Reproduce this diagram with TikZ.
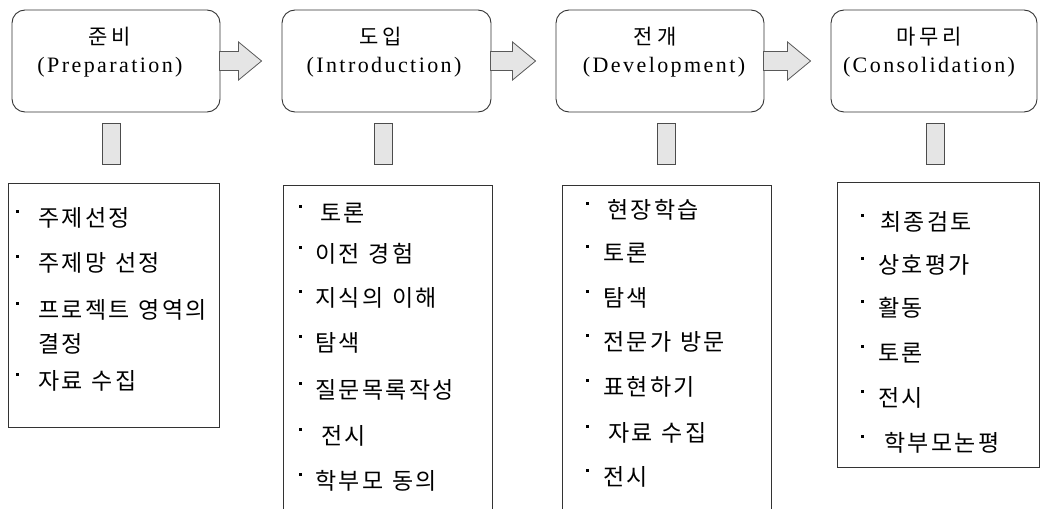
\documentclass[tikz,border=0pt]{standalone}
\usepackage{fontspec}
\usetikzlibrary{calc}
\newfontfamily\krfont{Noto Sans CJK KR}
\newfontfamily\enfont[LetterSpace=11]{Liberation Serif}
% extra spacing between Hangul syllables
\newdimen\hgap \hgap=1.5pt
\newcommand\sethgap[1]{\global\hgap=#1\relax}
\XeTeXinterchartokenstate=1
\newXeTeXintercharclass\hangulclass
\count255="AC00
\loop
  \XeTeXcharclass\count255=\hangulclass
  \ifnum\count255<"D7A3 \advance\count255 by 1
\repeat
\XeTeXinterchartoks\hangulclass\hangulclass={\kern\hgap}
\newcommand\headfont{\krfont\fontsize{21}{24}\selectfont\sethgap{4pt}}
\newcommand\itemfont{\krfont\fontsize{23}{27}\selectfont\sethgap{2.3pt}\spaceskip=9pt\relax}
\tikzset{
  stage/.style={draw=black!80, line width=0.9pt, rounded corners=13pt, inner sep=0pt},
  listbox/.style={draw=black!80, line width=0.9pt, inner sep=0pt},
  stub/.style={draw=black!70, fill=black!10, line width=0.8pt, inner sep=0pt, minimum width=18pt, minimum height=41pt},
  barrow/.style={draw=black!65, fill=black!10, line width=0.8pt, line join=miter},
  krhead/.style={font=\headfont, inner sep=0pt},
  enhead/.style={font=\enfont\fontsize{22}{25}\selectfont, inner sep=0pt},
  item/.style={font=\itemfont, inner sep=0pt, anchor=west},
  dot/.style={fill=black}
}
\newcommand\blockarrow[2]{%
  \draw[barrow] ($(#1.east)+(-1,-9.5)$) -- ($(#2.west)+(-43,-9.5)$) -- ($(#2.west)+(-43,-19)$)
    -- ($(#2.west)+(-20,0)$) -- ($(#2.west)+(-43,19)$) -- ($(#2.west)+(-43,9.5)$)
    -- ($(#1.east)+(-1,9.5)$) -- cycle;}
\newcommand\bitem[5]{% name, bullet x, text x, y, text
  \node[item] (#1) at (#3,#4) {#5};
  \fill[dot] (#2-1.5,#4-8) rectangle ++(3,3);}
\begin{document}
\begin{tikzpicture}[x=1pt,y=-1pt]
\useasboundingbox (0,0) rectangle (1040,508);

% stage boxes
\node[stage, minimum width=208pt, minimum height=102pt] (b1) at (116,61) {};
\node[stage, minimum width=209pt, minimum height=102pt] (b2) at (386.5,61) {};
\node[stage, minimum width=208pt, minimum height=102pt] (b3) at (660,61) {};
\node[stage, minimum width=206pt, minimum height=102pt] (b4) at (934,61) {};

\node[krhead] (h1k) at (110,37) {준비};
\node[enhead] (h1e) at (110,67) {(Preparation)};
\node[krhead] (h2k) at (381,37) {도입};
\node[enhead] (h2e) at (384,67) {(Introduction)};
\node[krhead] (h3k) at (655,37) {전개};
\node[enhead] (h3e) at (664,67) {(Development)};
\node[krhead] (h4k) at (929,37) {마무리};
\node[enhead] (h4e) at (929,67) {(Consolidation)};

% block arrows
\blockarrow{b1}{b2}
\blockarrow{b2}{b3}
\blockarrow{b3}{b4}

% stubs
\node[stub] (s1) at (111,143.5) {};
\node[stub] (s2) at (383.5,143.5) {};
\node[stub] (s3) at (666,143.5) {};
\node[stub] (s4) at (935,143.5) {};

% list boxes
\node[listbox, minimum width=211pt, minimum height=244pt] (l1) at (113.5,305) {};
\node[listbox, minimum width=209pt, minimum height=330pt] (l2) at (387.5,350) {};
\node[listbox, minimum width=209pt, minimum height=330pt] (l3) at (666.5,350) {};
\node[listbox, minimum width=202pt, minimum height=285pt] (l4) at (938,324.5) {};

% list 1
\bitem{a1}{17}{38}{218}{주제선정}
\bitem{a2}{17}{38}{263}{주제망 선정}
\bitem{a3}{17}{38}{310}{프로젝트 영역의}
\node[item] (a3b) at (38,344) {결정};
\bitem{a4}{17}{38}{381}{자료 수집}

% list 2
\bitem{c1}{300}{320}{213}{토론}
\bitem{c2}{300}{315}{254}{이전 경험}
\bitem{c3}{300}{315}{298}{지식의 이해}
\bitem{c4}{300}{315}{343}{탐색}
\bitem{c5}{300}{315}{390}{질문목록작성}
\bitem{c6}{300}{321}{436}{전시}
\bitem{c7}{300}{315}{481}{학부모 동의}

% list 3
\bitem{d1}{587}{607}{210}{현장학습}
\bitem{d2}{587}{603}{253}{토론}
\bitem{d3}{587}{603}{298}{탐색}
\bitem{d4}{587}{603}{342}{전문가 방문}
\bitem{d5}{587}{603}{387}{표현하기}
\bitem{d6}{587}{608}{433}{자료 수집}
\bitem{d7}{587}{603}{477}{전시}

% list 4
\bitem{e1}{862}{880}{222}{최종검토}
\bitem{e2}{862}{878}{265}{상호평가}
\bitem{e3}{862}{878}{308}{활동}
\bitem{e4}{862}{878}{353}{토론}
\bitem{e5}{862}{878}{398}{전시}
\bitem{e6}{862}{884}{443}{학부모논평}
\end{tikzpicture}
\end{document}
